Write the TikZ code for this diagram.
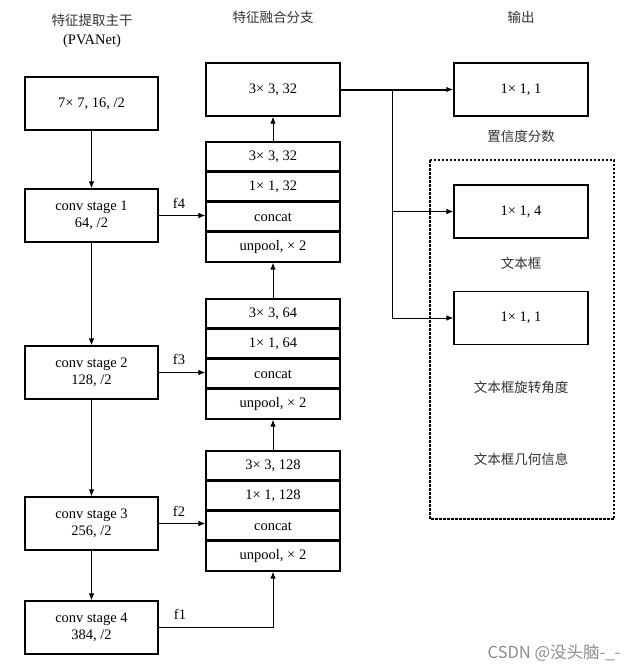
\documentclass[tikz,border=0pt]{standalone}
\usepackage{fontspec}
\setmainfont{Liberation Serif}
\newfontfamily\cjk{Noto Sans CJK SC}
\usetikzlibrary{arrows.meta}
\tikzset{
  box/.style={draw, line width=1.2pt, rectangle, minimum width=133pt, minimum height=53pt, inner sep=0pt, align=center, font=\fontsize{14.5}{17}\selectfont},
  row/.style={draw, line width=1.2pt, rectangle, minimum width=134pt, minimum height=30pt, inner sep=0pt, font=\fontsize{14.5}{17}\selectfont},
  divider/.style={line width=2pt},
  arr/.style={line width=1pt, -{Latex[length=7pt,width=5.5pt]}},
  thickarr/.style={line width=2pt, -{Latex[length=7pt,width=5.5pt]}},
  lbl/.style={font=\fontsize{14.5}{17}\selectfont, inner sep=0pt},
  cjklbl/.style={font=\cjk\fontsize{13.5}{16}\selectfont, inner sep=0pt, text=black!80},
}
\begin{document}
\begin{tikzpicture}[x=1pt,y=-1pt]
\useasboundingbox (0,0) rectangle (638,672);
% headers
\node[cjklbl] (h1) at (92,20) {特征提取主干};
\node[lbl] (h1b) at (92,41) {(PVANet)};
\node[cjklbl] (h2) at (273,17) {特征融合分支};
\node[cjklbl] (h3) at (521,17) {输出};
% left column
\node[box] (a) at (91.5,103.5) {7× 7, 16, /2};
\node[box] (s1) at (91.5,215.5) {conv stage 1\\64, /2};
\node[box] (s2) at (91.5,372.5) {conv stage 2\\128, /2};
\node[box] (s3) at (91.5,523.5) {conv stage 3\\256, /2};
\node[box] (s4) at (91.5,627.5) {conv stage 4\\384, /2};
% middle column
\node[box, minimum width=134pt] (top) at (273,89.5) {3× 3, 32};
\node[row] (g1a) at (273,157) {3× 3, 32};
\node[row] (g1b) at (273,187) {1× 1, 32};
\node[row] (g1c) at (273,217) {concat};
\node[row] (g1d) at (273,247) {unpool, × 2};
\node[row] (g2a) at (273,314) {3× 3, 64};
\node[row] (g2b) at (273,344) {1× 1, 64};
\node[row] (g2c) at (273,374) {concat};
\node[row] (g2d) at (273,404) {unpool, × 2};
\node[row] (g3a) at (273,466) {3× 3, 128};
\node[row] (g3b) at (273,496) {1× 1, 128};
\node[row] (g3c) at (273,526) {concat};
\node[row] (g3d) at (273,556) {unpool, × 2};
\foreach \g in {g1,g2,g3}{
  \draw[divider] (\g b.north west) -- (\g b.north east);
  \draw[divider] (\g c.north west) -- (\g c.north east);
  \draw[divider] (\g d.north west) -- (\g d.north east);
}
% right column
\node[box, minimum width=134pt] (o1) at (521,89.5) {1× 1, 1};
\node[box, minimum width=134pt] (o2) at (521,211.5) {1× 1, 4};
\node[box, minimum width=134pt] (o3) at (521,318) {1× 1, 1};
\node[cjklbl] (l1) at (521,136) {置信度分数};
\node[cjklbl] (l2) at (521,263) {文本框};
\node[cjklbl] (l3) at (521,387) {文本框旋转角度};
\node[cjklbl] (l4) at (521,459) {文本框几何信息};
\draw[line width=1.2pt, dash pattern=on 2.5pt off 1.5pt] (430,160) rectangle (614,519);
% backbone arrows
\draw[arr] (a) -- (s1);
\draw[arr] (s1) -- (s2);
\draw[arr] (s2) -- (s3);
\draw[arr] (s3) -- (s4);
% lateral arrows
\draw[arr] (s1.east) -- (s1.east -| g1c.west);
\draw[arr] (s2.east) -- (s2.east -| g2c.west);
\draw[arr] (s3.east) -- (s3.east -| g3c.west);
\draw[arr] (s4.east) -| (g3d.south);
\node[lbl] (f4) at (179,203) {f4};
\node[lbl] (f3) at (179,359) {f3};
\node[lbl] (f2) at (179,511) {f2};
\node[lbl] (f1) at (180,614) {f1};
% upward arrows
\draw[arr] (g3a.north) -- (g2d.south);
\draw[arr] (g2a.north) -- (g1d.south);
\draw[arr] (g1a.north) -- (top.south);
% outputs
\coordinate (br) at (392,89.5);
\draw[thickarr] (top.east) -- (o1.west);
\draw[arr] (br) |- (o2.west);
\draw[arr] (br) |- (o3.west);
% watermark
\node[font=\cjk\fontsize{16.5}{18}\selectfont, text=black!45, inner sep=0pt] (wm) at (554,653) {CSDN @没头脑-\_-};
\end{tikzpicture}
\end{document}
